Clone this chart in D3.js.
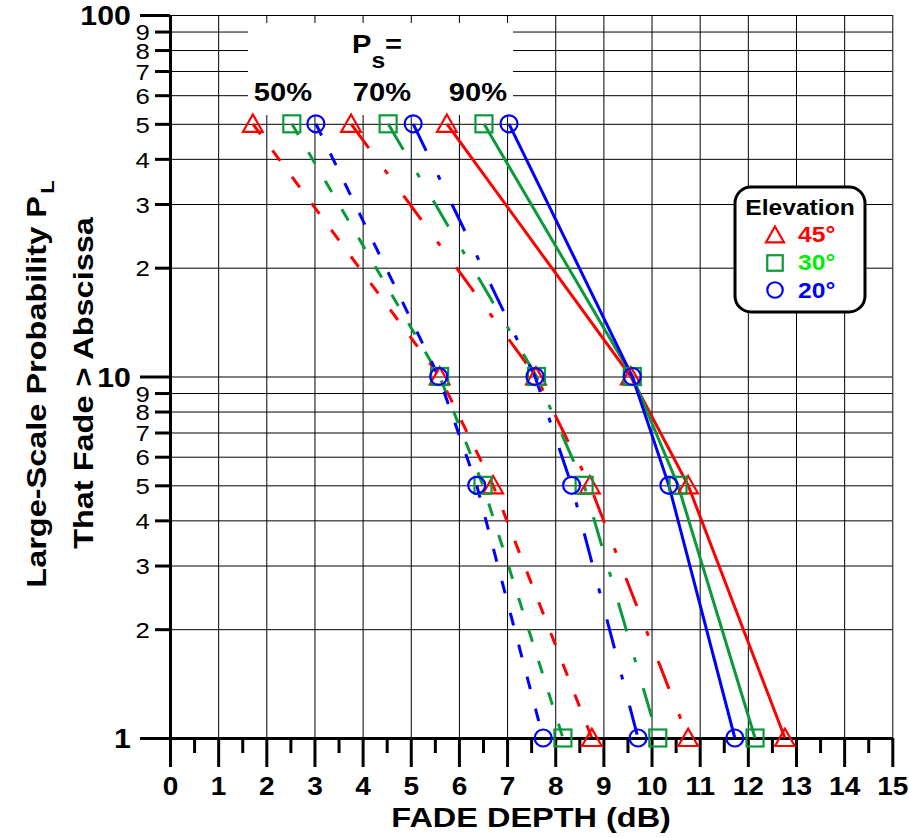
<!DOCTYPE html>
<html>
<head>
<meta charset="utf-8">
<script src="https://cdn.jsdelivr.net/npm/d3@7"></script>
<style>
  body { margin: 0; background: #fff; }
  svg { display: block; }
  text { font-family: "Liberation Sans", Arial, Helvetica, sans-serif; }
</style>
</head>
<body>
<svg id="chart" width="909" height="838"></svg>
<script>
// Large-scale probability levels (%) at which fade depths are given
const probLevels = [50, 10, 5, 1];

// Fade depth (dB) per point-probability P_s and elevation angle
const ps50_e45 = [1.72, 5.60, 6.71, 8.76];
const ps50_e30 = [2.53, 5.60, 6.50, 8.16];
const ps50_e20 = [3.03, 5.58, 6.37, 7.75];
const ps70_e45 = [3.76, 7.60, 8.72, 10.76];
const ps70_e30 = [4.53, 7.61, 8.60, 10.13];
const ps70_e20 = [5.05, 7.58, 8.34, 9.72];
const ps90_e45 = [5.75, 9.57, 10.76, 12.77];
const ps90_e30 = [6.52, 9.60, 10.55, 12.15];
const ps90_e20 = [7.04, 9.60, 10.36, 11.73];

const psLabels = ["50%", "70%", "90%"];
const elevLabels = ["45°", "30°", "20°"];
const elevColors = ["#ff0000", "#0a9a3a", "#0000ff"];
const elevTextColors = ["#ff0000", "#00ee00", "#0000ff"];
const elevShapes = ["triangle", "square", "circle"];
const psDash = ["13,20", "30,27,5,27", null];

const xTicks = d3.range(0, 16);
const xMinorTicks = d3.range(0.5, 15, 1);
const yMajorTicks = [1, 10, 100];
const yMinorTicks = [2, 3, 4, 5, 6, 7, 8, 9, 20, 30, 40, 50, 60, 70, 80, 90];

const seriesTable = [
  [ps50_e45, ps50_e30, ps50_e20],
  [ps70_e45, ps70_e30, ps70_e20],
  [ps90_e45, ps90_e30, ps90_e20]
];

const SX = 1.12; // horizontal stretch for the wide lettering

const svg = d3.select("#chart");
const x = d3.scaleLinear().domain([0, 15]).range([170, 892.3]);
const y = d3.scaleLog().domain([1, 100]).range([738, 15]);

function styleText(sel, size, weight) {
  sel.style("font-family", '"Liberation Sans", Arial, Helvetica, sans-serif')
     .style("font-size", size + "px")
     .style("font-weight", weight)
     .attr("fill", "#000");
}

// ---- grid ----
svg.append("g")
  .attr("transform", `translate(0,${y(1)})`)
  .call(d3.axisBottom(x).tickValues(xTicks.slice(1)).tickSize(-(y(1) - y(100))).tickFormat(""))
  .call(g => g.select(".domain").remove())
  .call(g => g.selectAll(".tick line").attr("stroke", "#000").attr("stroke-width", 1));

svg.append("g")
  .attr("transform", `translate(${x(0)},0)`)
  .call(d3.axisLeft(y).tickValues(yMinorTicks.concat(yMajorTicks)).tickSize(-(x(15) - x(0))).tickFormat(""))
  .call(g => g.select(".domain").remove())
  .call(g => g.selectAll(".tick line").attr("stroke", "#000").attr("stroke-width", 1));

// ---- x axis ----
const xAxisG = svg.append("g")
  .attr("transform", `translate(0,${y(1)})`)
  .call(d3.axisBottom(x).tickValues(xTicks).tickSize(29).tickSizeOuter(0).tickPadding(10).tickFormat(d3.format("d")));
xAxisG.select(".domain").attr("stroke", "#000").attr("stroke-width", 3);
xAxisG.selectAll(".tick line").attr("stroke", "#000").attr("stroke-width", 3);
xAxisG.selectAll(".tick text").call(styleText, 25, "bold").attr("transform", `scale(${SX},1)`);

svg.append("g")
  .attr("transform", `translate(0,${y(1)})`)
  .call(d3.axisBottom(x).tickValues(xMinorTicks).tickSize(15).tickFormat(""))
  .call(g => g.select(".domain").remove())
  .call(g => g.selectAll(".tick line").attr("stroke", "#000").attr("stroke-width", 3));

// ---- y axis ----
const yAxisG = svg.append("g")
  .attr("transform", `translate(${x(0)},0)`)
  .call(d3.axisLeft(y).tickValues(yMajorTicks).tickSize(30).tickSizeOuter(0).tickPadding(5).tickFormat(d3.format("d")));
yAxisG.select(".domain").attr("stroke", "#000").attr("stroke-width", 3);
yAxisG.selectAll(".tick line").attr("stroke", "#000").attr("stroke-width", 3);
yAxisG.selectAll(".tick text").call(styleText, 27, "bold").attr("dy", "0.36em").attr("transform", `scale(${SX},1)`);

const yMinorG = svg.append("g")
  .attr("transform", `translate(${x(0)},0)`)
  .call(d3.axisLeft(y).tickValues(yMinorTicks).tickSize(15).tickPadding(3)
    .tickFormat(d => String(Math.round(d / Math.pow(10, Math.floor(Math.log10(d) + 1e-9))))));
yMinorG.select(".domain").remove();
yMinorG.selectAll(".tick line").attr("stroke", "#000").attr("stroke-width", 3);
yMinorG.selectAll(".tick text").call(styleText, 23, "normal").attr("dy", "0.36em").attr("transform", `scale(${SX},1)`);

// ---- axis titles ----
svg.append("text")
  .attr("transform", `translate(${(x(0) + x(15)) / 2},827) scale(1.16,1)`)
  .attr("text-anchor", "middle")
  .call(styleText, 28, "bold")
  .text("FADE DEPTH (dB)");

const yt1 = svg.append("text")
  .attr("transform", `translate(46,384) rotate(-90) scale(1.16,1)`)
  .attr("text-anchor", "middle")
  .call(styleText, 28, "bold");
yt1.append("tspan").text("Large-Scale Probability P");
yt1.append("tspan").attr("dx", 2).attr("dy", 8).style("font-size", "19px").text("L");

svg.append("text")
  .attr("transform", `translate(93,383) rotate(-90) scale(1.16,1)`)
  .attr("text-anchor", "middle")
  .call(styleText, 28, "bold")
  .text("That Fade > Abscissa");

// ---- P_s annotation block ----
svg.append("rect")
  .attr("x", 248).attr("y", 23).attr("width", 265).attr("height", 92)
  .attr("fill", "#fff");

const psTitle = svg.append("text")
  .attr("transform", `translate(352,53) scale(${SX},1)`)
  .call(styleText, 26, "bold");
psTitle.append("tspan").text("P");
psTitle.append("tspan").attr("dy", 15).style("font-size", "22px").text("s");
psTitle.append("tspan").attr("dy", -15).text("=");

const psCenters = [283, 382, 478];
svg.append("g").selectAll("text")
  .data(psLabels)
  .join("text")
  .attr("transform", (d, i) => `translate(${psCenters[i]},101) scale(${SX},1)`)
  .attr("text-anchor", "middle")
  .call(styleText, 26, "bold")
  .text(d => d);

// ---- marker shapes ----
function drawMarker(g, shape, color, s) {
  const sw = 2.2;
  if (shape === "triangle") {
    g.append("path")
      .attr("d", `M0,${-0.55 * s}L${0.58 * s},${0.47 * s}L${-0.58 * s},${0.47 * s}Z`)
      .attr("fill", "none").attr("stroke", color).attr("stroke-width", sw);
  } else if (shape === "square") {
    g.append("rect")
      .attr("x", -s / 2).attr("y", -s / 2).attr("width", s).attr("height", s)
      .attr("fill", "none").attr("stroke", color).attr("stroke-width", sw);
  } else {
    g.append("circle")
      .attr("r", s / 2)
      .attr("fill", "none").attr("stroke", color).attr("stroke-width", sw);
  }
}

// ---- series lines ----
const line = d3.line().x(d => x(d.v)).y(d => y(d.p));
const seriesData = [];
seriesTable.forEach((group, pi) => {
  group.forEach((vals, ei) => {
    seriesData.push({
      ps: pi, elev: ei,
      pts: vals.map((v, k) => ({ v, p: probLevels[k] }))
    });
  });
});

// draw by elevation so blue lies over green over red
const ordered = seriesData.slice().sort((a, b) => a.elev - b.elev || a.ps - b.ps);
const linesG = svg.append("g");
ordered.forEach(s => {
  linesG.append("path")
    .attr("d", line(s.pts))
    .attr("fill", "none")
    .attr("stroke", elevColors[s.elev])
    .attr("stroke-width", 3)
    .attr("stroke-dasharray", psDash[s.ps]);
});

const markG = svg.append("g");
ordered.forEach(s => {
  s.pts.forEach(pt => {
    const g = markG.append("g").attr("transform", `translate(${x(pt.v)},${y(pt.p)})`);
    drawMarker(g, elevShapes[s.elev], elevColors[s.elev], 17);
  });
});

// ---- legend ----
const leg = svg.append("g");
leg.append("rect")
  .attr("x", 735).attr("y", 187).attr("width", 130).attr("height", 125)
  .attr("rx", 16).attr("ry", 16)
  .attr("fill", "#fff").attr("stroke", "#000").attr("stroke-width", 3);
leg.append("text")
  .attr("transform", `translate(800,215) scale(${SX},1)`)
  .attr("text-anchor", "middle")
  .call(styleText, 22, "bold")
  .text("Elevation");
const rowMarkY = [235, 263, 290];
const rowTextY = [242, 270, 298];
elevLabels.forEach((lab, i) => {
  const g = leg.append("g").attr("transform", `translate(775,${rowMarkY[i]})`);
  drawMarker(g, elevShapes[i], elevColors[i], 15.5);
  leg.append("text")
    .attr("transform", `translate(798,${rowTextY[i]}) scale(${SX},1)`)
    .call(styleText, 22, "bold")
    .attr("fill", elevTextColors[i])
    .text(lab);
});
</script>
</body>
</html>
